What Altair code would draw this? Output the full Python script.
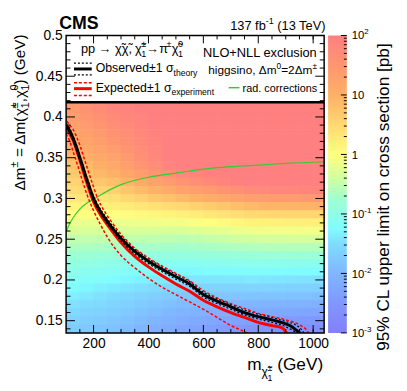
import altair as alt
import pandas as pd

FONT = "Liberation Sans"
W, H = 262, 302          # plot area (page x 67..329, y 33..335)
OX, OY = 67, 33          # plot origin on the page

# ---------------- data ----------------
# heat map: log10 of the 95% CL upper limit [pb]; columns = chargino mass, rows = delta m
heat_m = [125, 175, 225, 275, 325, 375, 425, 475, 525, 575, 625, 675, 725, 775, 825, 875, 925, 975, 1025]
heat_dm = [0.42, 0.41, 0.40, 0.39, 0.38, 0.37, 0.36, 0.35, 0.34, 0.33, 0.32, 0.31, 0.30, 0.29, 0.28,
           0.27, 0.26, 0.25, 0.24, 0.23, 0.22, 0.21, 0.20, 0.19, 0.18, 0.17, 0.16, 0.15, 0.14]
heat_log10 = [
    [1.5, 1.65, 1.8, 1.95, 2.0, 2.05, 2.1, 2.15, 2.2, 2.2, 2.2, 2.2, 2.2, 2.2, 2.2, 2.2, 2.2, 2.2, 2.2],
    [1.45, 1.59, 1.72, 1.86, 1.93, 2.0, 2.06, 2.13, 2.2, 2.2, 2.2, 2.2, 2.2, 2.2, 2.2, 2.2, 2.2, 2.2, 2.2],
    [1.36, 1.5, 1.63, 1.77, 1.86, 1.94, 2.03, 2.11, 2.2, 2.2, 2.2, 2.2, 2.2, 2.2, 2.2, 2.2, 2.2, 2.2, 2.2],
    [1.27, 1.41, 1.54, 1.68, 1.78, 1.89, 1.99, 2.1, 2.2, 2.2, 2.2, 2.2, 2.2, 2.2, 2.2, 2.2, 2.2, 2.2, 2.2],
    [1.18, 1.32, 1.45, 1.59, 1.71, 1.83, 1.96, 2.08, 2.2, 2.2, 2.2, 2.2, 2.2, 2.2, 2.2, 2.2, 2.2, 2.2, 2.2],
    [1.09, 1.23, 1.36, 1.5, 1.64, 1.78, 1.92, 2.06, 2.2, 2.2, 2.2, 2.2, 2.2, 2.2, 2.2, 2.2, 2.2, 2.2, 2.2],
    [1.0, 1.13, 1.25, 1.38, 1.54, 1.71, 1.87, 2.04, 2.2, 2.2, 2.2, 2.2, 2.2, 2.2, 2.2, 2.2, 2.2, 2.2, 2.2],
    [0.89, 1.01, 1.13, 1.25, 1.44, 1.63, 1.83, 2.01, 2.2, 2.2, 2.2, 2.2, 2.2, 2.2, 2.2, 2.2, 2.2, 2.2, 2.2],
    [0.78, 0.9, 1.01, 1.13, 1.32, 1.52, 1.71, 1.91, 2.1, 2.12, 2.14, 2.16, 2.17, 2.19, 2.2, 2.2, 2.2, 2.2, 2.2],
    [0.67, 0.78, 0.89, 1.0, 1.17, 1.34, 1.51, 1.68, 1.85, 1.91, 1.98, 2.04, 2.11, 2.17, 2.2, 2.2, 2.2, 2.2, 2.2],
    [0.56, 0.64, 0.72, 0.8, 0.95, 1.1, 1.26, 1.41, 1.56, 1.68, 1.79, 1.91, 2.03, 2.14, 2.2, 2.2, 2.2, 2.2, 2.2],
    [0.43, 0.49, 0.54, 0.6, 0.73, 0.85, 0.98, 1.1, 1.23, 1.33, 1.43, 1.54, 1.64, 1.74, 1.8, 1.83, 1.85, 1.88, 1.9],
    [0.29, 0.33, 0.36, 0.4, 0.5, 0.59, 0.69, 0.78, 0.88, 0.97, 1.05, 1.14, 1.23, 1.32, 1.37, 1.39, 1.41, 1.43, 1.45],
    [0.14, 0.16, 0.18, 0.2, 0.26, 0.32, 0.38, 0.44, 0.5, 0.58, 0.65, 0.73, 0.81, 0.88, 0.92, 0.93, 0.94, 0.95, 0.96],
    [0.0, 0.0, 0.0, 0.0, 0.04, 0.08, 0.11, 0.15, 0.19, 0.25, 0.3, 0.36, 0.42, 0.47, 0.5, 0.51, 0.52, 0.53, 0.54],
    [-0.17, -0.17, -0.17, -0.17, -0.15, -0.14, -0.12, -0.11, -0.09, -0.04, 0.0, 0.05, 0.1, 0.15, 0.17, 0.18, 0.19, 0.19, 0.2],
    [-0.33, -0.33, -0.33, -0.33, -0.33, -0.33, -0.32, -0.32, -0.32, -0.28, -0.25, -0.21, -0.17, -0.14, -0.12, -0.11, -0.11, -0.1, -0.1],
    [-0.5, -0.5, -0.5, -0.5, -0.51, -0.52, -0.53, -0.54, -0.55, -0.52, -0.48, -0.45, -0.41, -0.38, -0.36, -0.36, -0.35, -0.35, -0.35],
    [-0.64, -0.65, -0.67, -0.68, -0.69, -0.7, -0.7, -0.71, -0.72, -0.7, -0.68, -0.65, -0.63, -0.61, -0.6, -0.6, -0.6, -0.6, -0.6],
    [-0.79, -0.81, -0.84, -0.86, -0.87, -0.89, -0.9, -0.92, -0.93, -0.91, -0.89, -0.87, -0.86, -0.84, -0.83, -0.83, -0.83, -0.83, -0.83],
    [-0.93, -0.96, -0.99, -1.02, -1.04, -1.06, -1.08, -1.1, -1.12, -1.11, -1.09, -1.08, -1.07, -1.05, -1.05, -1.05, -1.06, -1.06, -1.06],
    [-1.05, -1.08, -1.11, -1.14, -1.17, -1.2, -1.22, -1.25, -1.28, -1.27, -1.26, -1.25, -1.24, -1.23, -1.23, -1.24, -1.25, -1.25, -1.26],
    [-1.15, -1.19, -1.22, -1.26, -1.3, -1.33, -1.37, -1.4, -1.44, -1.43, -1.43, -1.42, -1.42, -1.41, -1.42, -1.43, -1.44, -1.45, -1.46],
    [-1.25, -1.29, -1.34, -1.38, -1.42, -1.47, -1.51, -1.56, -1.6, -1.6, -1.6, -1.6, -1.6, -1.6, -1.61, -1.62, -1.64, -1.65, -1.67],
    [-1.35, -1.4, -1.45, -1.5, -1.55, -1.6, -1.66, -1.71, -1.76, -1.77, -1.78, -1.79, -1.8, -1.81, -1.82, -1.83, -1.85, -1.86, -1.88],
    [-1.45, -1.5, -1.54, -1.59, -1.65, -1.72, -1.78, -1.85, -1.91, -1.93, -1.95, -1.97, -1.99, -2.01, -2.03, -2.04, -2.05, -2.07, -2.08],
    [-1.54, -1.59, -1.63, -1.68, -1.75, -1.82, -1.9, -1.97, -2.04, -2.07, -2.09, -2.12, -2.14, -2.17, -2.19, -2.22, -2.24, -2.27, -2.29],
    [-1.63, -1.68, -1.72, -1.77, -1.85, -1.92, -2.0, -2.07, -2.15, -2.19, -2.22, -2.26, -2.3, -2.33, -2.37, -2.4, -2.43, -2.47, -2.5],
    [-1.71, -1.76, -1.81, -1.86, -1.94, -2.02, -2.09, -2.17, -2.25, -2.3, -2.35, -2.4, -2.45, -2.5, -2.54, -2.57, -2.6, -2.64, -2.67],
]

# exclusion contours (chargino mass [GeV], delta m [GeV])
obs_m = [100, 110, 120, 130, 150, 175, 200, 225, 250, 300, 350, 400, 450, 500, 550, 600, 650, 700, 750, 800, 850, 900, 925, 940, 955]
obs_dm = [0.389, 0.385, 0.378, 0.370, 0.350, 0.324, 0.300, 0.284, 0.272, 0.251, 0.235, 0.223, 0.213, 0.204, 0.195, 0.182, 0.174, 0.167, 0.160, 0.155, 0.151, 0.146, 0.142, 0.138, 0.134]
obs_up_m = [100, 110, 120, 130, 150, 175, 200, 225, 250, 300, 350, 400, 450, 500, 550, 600, 650, 700, 750, 800, 850, 900, 935, 955, 968]
obs_up_dm = [0.392, 0.388, 0.381, 0.373, 0.353, 0.327, 0.303, 0.287, 0.275, 0.254, 0.238, 0.226, 0.216, 0.207, 0.198, 0.185, 0.177, 0.170, 0.163, 0.158, 0.154, 0.149, 0.145, 0.140, 0.134]
obs_dn_m = [100, 110, 120, 130, 150, 175, 200, 225, 250, 300, 350, 400, 450, 500, 550, 600, 650, 700, 750, 800, 850, 890, 915, 930, 942]
obs_dn_dm = [0.386, 0.382, 0.375, 0.367, 0.347, 0.321, 0.297, 0.281, 0.269, 0.248, 0.232, 0.220, 0.210, 0.201, 0.192, 0.179, 0.171, 0.164, 0.157, 0.152, 0.148, 0.144, 0.140, 0.137, 0.134]
exp_m = [100, 110, 125, 150, 175, 200, 225, 250, 300, 350, 400, 450, 500, 550, 600, 650, 700, 750, 800, 850, 880, 895, 905]
exp_dm = [0.386, 0.381, 0.372, 0.347, 0.320, 0.296, 0.280, 0.268, 0.246, 0.229, 0.216, 0.205, 0.195, 0.186, 0.175, 0.167, 0.160, 0.154, 0.148, 0.144, 0.142, 0.139, 0.134]
exp_up_m = [103, 115, 125, 135, 145, 165, 190, 215, 240, 266, 300, 350, 400, 450, 500, 550, 600, 650, 700, 750, 800, 850, 900, 930, 955, 975, 985]
exp_up_dm = [0.395, 0.389, 0.385, 0.378, 0.370, 0.350, 0.324, 0.300, 0.284, 0.271, 0.256, 0.239, 0.227, 0.217, 0.208, 0.199, 0.187, 0.178, 0.171, 0.165, 0.159, 0.155, 0.151, 0.148, 0.144, 0.139, 0.134]
exp_dn_m = [100, 111, 125, 136, 150, 161, 186, 200, 225, 255, 300, 350, 400, 450, 500, 550, 600, 650, 700, 740, 765]
exp_dn_dm = [0.379, 0.372, 0.358, 0.347, 0.332, 0.320, 0.296, 0.285, 0.268, 0.250, 0.230, 0.215, 0.202, 0.191, 0.182, 0.173, 0.164, 0.154, 0.144, 0.138, 0.134]
rad_m = [100, 110, 125, 150, 175, 200, 250, 300, 400, 500, 600, 700, 800, 900, 1040]
rad_dm = [0.259, 0.267, 0.276, 0.287, 0.294, 0.299, 0.309, 0.317, 0.326, 0.331, 0.336, 0.339, 0.341, 0.343, 0.345]

# axis ticks
x_major = [200, 400, 600, 800, 1000]
x_minor = [150, 250, 300, 350, 450, 500, 550, 650, 700, 750, 850, 900, 950, 1000]
y_major = [0.15, 0.2, 0.25, 0.3, 0.35, 0.4, 0.45, 0.5]
y_minor = [0.14, 0.16, 0.17, 0.18, 0.19, 0.21, 0.22, 0.23, 0.24, 0.26, 0.27, 0.28, 0.29, 0.31, 0.32,
           0.33, 0.34, 0.36, 0.37, 0.38, 0.39, 0.41, 0.42, 0.43, 0.44, 0.46, 0.47, 0.48, 0.49]
cb_major = [1e-3, 1e-2, 1e-1, 1, 10, 100]
cb_minor = [k * d for d in [1e-3, 1e-2, 1e-1, 1, 10] for k in range(2, 10)]

# palette (log10 value -> colour)
pal_lv = [-3, -2.5, -2, -1.5, -1.25, -0.75, -0.4, 0, 0.5, 1, 1.5, 2]
pal_col = ["#8380f8", "#8097ff", "#80b6ff", "#80dcff", "#80fcff", "#a0ffd0", "#d0ffa0",
           "#ffff80", "#ffd872", "#fdb066", "#ff9670", "#ff8080"]

# ---------------- scales / axes ----------------
XS = alt.Scale(domain=[100, 1040], nice=False, zero=False)
YS = alt.Scale(domain=[0.135, 0.5], nice=False, zero=False)
CS = alt.Scale(type="log", domain=[1e-3, 1e2], nice=False)
COL = alt.Scale(domain=pal_lv, range=pal_col, clamp=True, interpolate="rgb")
XAX = alt.Axis(values=x_major, format="d", ticks=False, tickSize=0, domain=False, grid=False, title=None,
               labelFont=FONT, labelFontSize=14, labelColor="black", labelPadding=4, labelFlush=False)
YAX = alt.Axis(values=y_major, format=".2~f", ticks=False, tickSize=0, domain=False, grid=False, title=None,
               labelFont=FONT, labelFontSize=14, labelColor="black", labelPadding=4, labelFlush=False)

one = pd.DataFrame({"a": [0]})

rows = []
for dm, vals in zip(heat_dm, heat_log10):
    for m, v in zip(heat_m, vals):
        rows.append({"x0": m - 25, "x1": m + 25, "y0": dm - 0.005, "y1": dm + 0.005, "lv": v})
heat_df = pd.DataFrame(rows)

heat = alt.Chart(heat_df).mark_rect(clip=True, strokeWidth=0.8).encode(
    x=alt.X("x0:Q", scale=XS, axis=XAX), x2="x1:Q",
    y=alt.Y("y0:Q", scale=YS, axis=YAX), y2="y1:Q",
    color=alt.Color("lv:Q", scale=COL, legend=None),
    stroke=alt.Stroke("lv:Q", scale=COL, legend=None),
)


def curve(m, dm, color, width, dash=None):
    kw = dict(clip=True, color=color, strokeWidth=width, interpolate="monotone")
    if dash:
        kw["strokeDash"] = dash
    return alt.Chart(pd.DataFrame({"m": m, "dm": dm})).mark_line(**kw).encode(
        x=alt.X("m:Q", scale=XS, axis=XAX), y=alt.Y("dm:Q", scale=YS, axis=YAX))


legend_box = alt.Chart(one).mark_rect(color="white").encode(
    x=alt.XDatum(100, scale=XS, axis=XAX), x2=alt.X2Datum(1040),
    y=alt.YDatum(0.418, scale=YS, axis=YAX), y2=alt.Y2Datum(0.5))
legend_line = alt.Chart(one).mark_rule(color="black", strokeWidth=2.5).encode(
    x=alt.value(0), x2=alt.value(W), y=alt.YDatum(0.418, scale=YS, axis=YAX))


def xticks(vals, length, top):
    y, y2 = (0, length) if top else (H, H - length)
    return alt.Chart(pd.DataFrame({"v": vals})).mark_rule(color="black", strokeWidth=1).encode(
        x=alt.X("v:Q", scale=XS, axis=XAX), y=alt.value(y), y2=alt.value(y2))


def yticks(vals, length, right):
    x, x2 = (W, W - length) if right else (0, length)
    return alt.Chart(pd.DataFrame({"v": vals})).mark_rule(color="black", strokeWidth=1).encode(
        y=alt.Y("v:Q", scale=YS, axis=YAX), x=alt.value(x), x2=alt.value(x2))


frame = alt.Chart(one).mark_rect(filled=False, stroke="black", strokeWidth=1.5).encode(
    x=alt.value(0), x2=alt.value(W), y=alt.value(0), y2=alt.value(H))


def sym(x1, x2, y, color, width, dash=None):
    kw = dict(color=color, strokeWidth=width)
    if dash:
        kw["strokeDash"] = dash
    return alt.Chart(one).mark_rule(**kw).encode(
        x=alt.value(x1 - OX), x2=alt.value(x2 - OX), y=alt.value(y - OY))


syms = [
    sym(75, 93, 61, "black", 1.2, [2, 2]), sym(75, 93, 73, "black", 1.2, [2, 2]), sym(75, 93, 67, "black", 3),
    sym(75, 93, 81, "red", 1.5, [3, 2]), sym(75, 93, 94, "red", 1.5, [3, 2]), sym(75, 93, 87, "red", 3),
    sym(232, 243, 86, "#33cc33", 1.5),
]

# ---------------- text layout ----------------
CW = {' ': .278, '%': .889, '(': .333, ')': .333, '+': .584, ',': .278, '-': .333, '.': .278,
      '=': .584, '[': .278, ']': .278, 'C': .722, 'E': .667, 'G': .778, 'L': .556, 'M': .833,
      'N': .722, 'O': .778, 'S': .667, 'T': .611, 'V': .667, 'a': .556, 'b': .556, 'c': .5,
      'd': .556, 'e': .556, 'f': .278, 'g': .556, 'h': .556, 'i': .222, 'l': .222, 'm': .833,
      'n': .556, 'o': .556, 'p': .556, 'r': .333, 's': .5, 't': .278, 'u': .556, 'v': .5,
      'x': .5, 'y': .5, 'Δ': .668, 'χ': .5, 'π': .57, 'σ': .57, '±': .584, '→': 1.0, '\u0303': 0.0}


def tw(s, fs):
    return fs * sum(CW.get(ch, 0.556) for ch in s)


def place(pieces, size, x, y, anchor="start", vertical=False, color="black"):
    items, pos = [], 0.0
    for text, rel, shift, adv in pieces:
        fs = size * rel
        stripped = text.lstrip(" ")
        lead = tw(text[: len(text) - len(stripped)], fs)
        items.append((pos + lead, shift * size, stripped, fs))
        if adv:
            pos += tw(text, fs)
    off = {"start": 0.0, "end": pos, "middle": pos / 2}[anchor]
    out = []
    for a, s, text, fs in items:
        a -= off
        if vertical:
            out.append(dict(x=x + s - OX, y=y - a - OY, t=text, fs=fs, c=color))
        else:
            out.append(dict(x=x + a - OX, y=y + s - OY, t=text, fs=fs, c=color))
    return out


T, F = True, False
CHI = "χ\u0303"
SUP, SUB = -0.45, 0.28
htexts = []
htexts += place([("137 fb", 1, 0, T), ("-1", 0.7, SUP, T), (" (13 TeV)", 1, 0, T)], 13, 332, 27, "end")
htexts += place([("pp → ", 1, 0, T), (CHI + CHI + ", ", 1, 0, T), (CHI, 1, 0, T), ("±", 0.7, SUP, F),
                 ("1", 0.7, SUB, T), ("→", 1, 0, T), ("π", 1, 0, T), ("±", 0.7, SUP, T), (CHI, 1, 0, T),
                 ("0", 0.7, SUP, F), ("1", 0.7, SUB, T)], 13, 82, 51)
htexts += place([("Observed±1 σ", 1, 0, T), ("theory", 0.7, SUB, T)], 12.5, 97, 70.5)
htexts += place([("Expected±1 σ", 1, 0, T), ("experiment", 0.7, SUB, T)], 12.5, 97, 90)
htexts += place([("NLO+NLL exclusion", 1, 0, T)], 13, 322, 54.5, "end")
htexts += place([("higgsino, Δm", 1, 0, T), ("0", 0.7, SUP, T), ("=2Δm", 1, 0, T), ("±", 0.7, SUP, T)],
                12, 322, 72, "end")
htexts += place([("rad. corrections", 1, 0, T)], 11, 322, 90, "end")
htexts += place([("m", 1, 0, T), (CHI, 0.7, 0.3, T), ("±", 0.5, 0.05, F), ("1", 0.5, 0.62, T),
                 (" (GeV)", 1, 0, T)], 17.5, 328, 373, "end")
for main, sup, yb in [("10", "2", 37), ("10", "", 97.5), ("1", "", 158), ("10", "-1", 218.5),
                      ("10", "-2", 279), ("10", "-3", 339)]:
    pcs = [(main, 1, 0, T)] + ([(sup, 0.7, SUP, T)] if sup else [])
    htexts += place(pcs, 11.5, 357, yb)

vtexts = []
vtexts += place([("Δm", 1, 0, T), ("±", 0.7, SUP, T), (" = Δm(", 1, 0, T), (CHI, 1, 0, T),
                 ("±", 0.7, SUP, F), ("1", 0.7, SUB, T), (",", 1, 0, T), (CHI, 1, 0, T),
                 ("0", 0.7, SUP, F), ("1", 0.7, SUB, T), (") (GeV)", 1, 0, T)],
                15.5, 25, 32, "end", vertical=True)
vtexts += place([("95% CL upper limit on cross section [pb]", 1, 0, T)], 17.5, 395, 40, "end", vertical=True)


def text_layer(items, angle=0, weight="normal"):
    return alt.Chart(pd.DataFrame(items)).mark_text(
        align="left", baseline="alphabetic", font=FONT, angle=angle, fontWeight=weight).encode(
        x=alt.X("x:Q", scale=None, axis=None), y=alt.Y("y:Q", scale=None, axis=None),
        text="t:N", size=alt.Size("fs:Q", scale=None, legend=None),
        color=alt.Color("c:N", scale=None, legend=None))


cms = text_layer([dict(x=60 - OX, y=26 - OY, t="CMS", fs=18, c="black")], weight="bold")

main = alt.layer(
    heat,
    curve(rad_m, rad_dm, "#33cc33", 1.2),
    curve(exp_m, exp_dm, "red", 3),
    curve(obs_m, obs_dm, "black", 3),
    curve(obs_up_m, obs_up_dm, "black", 1.2, [2, 2]),
    curve(obs_dn_m, obs_dn_dm, "black", 1.2, [2, 2]),
    curve(exp_up_m, exp_up_dm, "red", 1.5, [3, 2]),
    curve(exp_dn_m, exp_dn_dm, "red", 1.5, [3, 2]),
    legend_box, legend_line,
    xticks(x_major, 8, False), xticks(x_minor, 4, False), xticks(x_major, 8, True), xticks(x_minor, 4, True),
    yticks(y_major, 9, False), yticks(y_minor, 4.5, False), yticks(y_major, 9, True), yticks(y_minor, 4.5, True),
    frame, *syms,
    text_layer(htexts), text_layer(vtexts, angle=270), cms,
)

grad = alt.LinearGradient(
    gradient="linear", x1=0, x2=0, y1=1, y2=0,
    stops=[alt.GradientStop(color=c, offset=(v + 3) / 5) for v, c in zip(pal_lv, pal_col)])
cbar = alt.Chart(one).mark_rect(color=grad).encode(
    x=alt.value(333 - OX), x2=alt.value(352 - OX),
    y=alt.YDatum(1e-3, scale=CS, axis=None), y2=alt.Y2Datum(1e2))
cb_tick_major = alt.Chart(pd.DataFrame({"v": cb_major})).mark_rule(color="black", strokeWidth=1).encode(
    y=alt.Y("v:Q", scale=CS, axis=None), x=alt.value(352 - OX), x2=alt.value(346 - OX))
cb_tick_minor = alt.Chart(pd.DataFrame({"v": cb_minor})).mark_rule(color="black", strokeWidth=1).encode(
    y=alt.Y("v:Q", scale=CS, axis=None), x=alt.value(352 - OX), x2=alt.value(349 - OX))
cb = alt.layer(cbar, cb_tick_major, cb_tick_minor)

chart = alt.layer(main, cb).resolve_scale(y="independent").properties(
    width=W, height=H,
    autosize=alt.AutoSizeParams(type="none"),
    padding={"left": OX - 8, "top": OY - 8, "right": 76, "bottom": 50},
    background="white",
).configure_view(strokeWidth=0)

chart.save("out.html", embed_options={"renderer": "svg", "actions": False})
